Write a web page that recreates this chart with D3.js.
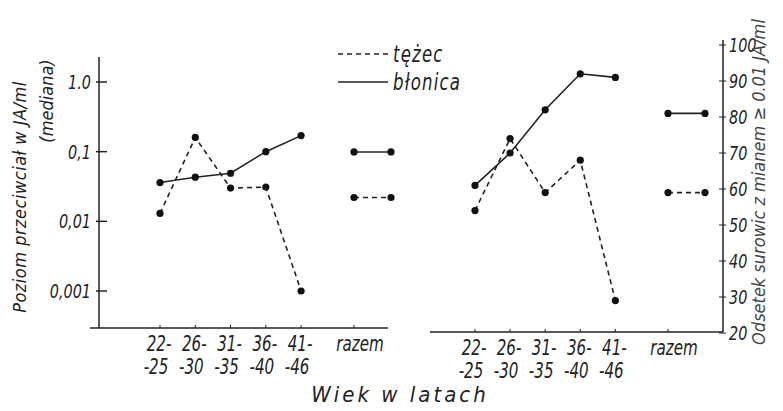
<!DOCTYPE html>
<html>
<head>
<meta charset="utf-8">
<script src="https://cdn.jsdelivr.net/npm/d3@7"></script>
<style>
  body { margin: 0; background: #fff; }
  svg text { font-family: "DejaVu Sans Condensed", "Liberation Sans", sans-serif; font-style: italic; fill: #222; }
  .ln { fill: none; stroke: #222; stroke-width: 1.6; }
  .axis { stroke: #222; stroke-width: 1.5; }
</style>
</head>
<body>
<svg width="783" height="411"></svg>
<script>
// age groups (line 1 / line 2 of tick label)
var groups1 = ["22-", "26-", "31-", "36-", "41-", "razem"];
var groups2 = ["-25", "-30", "-35", "-40", "-46", ""];
var groupPos = [0, 1, 2, 3, 4, 5.5];

var seriesNames = ["tężec", "błonica"];

// median antibody level, IU/ml (left panel, log scale)
var levelTezec   = [0.013, 0.16, 0.030, 0.031, 0.001, 0.022];
var levelBlonica = [0.036, 0.043, 0.049, 0.10, 0.17, 0.099];

// % of sera with titre >= 0.01 IU/ml (right panel)
var pctTezec   = [54, 74, 59, 68, 29, 59];
var pctBlonica = [61, 70, 82, 92, 91, 81];

var leftTicks = [1, 0.1, 0.01, 0.001];
var leftTickLabels = ["1.0", "0,1", "0,01", "0,001"];
var rightTicks = [20, 30, 40, 50, 60, 70, 80, 90, 100];

var svg = d3.select("svg");

var yLog = d3.scaleLog().domain([0.001, 1]).range([291, 82]);
var yPct = d3.scaleLinear().domain([20, 100]).range([333, 45]);
var xL = d3.scaleLinear().domain([0, 5.5]).range([160, 354]);
var xR = d3.scaleLinear().domain([0, 5.5]).range([475, 668]);
var razemW = 37;
var sx = 0.8; // narrow lettering

// text with narrow lettering, placed at (x,y)
function ntext(sel, x, y, size, anchor, s) {
  return sel.append("text")
      .attr("transform", "translate(" + x + "," + y + ") scale(" + sx + ",1)")
      .attr("text-anchor", anchor).style("font-size", size + "px").text(s);
}

// ---- axes ----
var leftX = 99, leftBase = 328, rightX = 723, rightBase = 332;

svg.append("line").attr("class", "axis").attr("x1", leftX).attr("x2", leftX).attr("y1", 57).attr("y2", leftBase);
svg.append("line").attr("class", "axis").attr("x1", 90).attr("x2", 388).attr("y1", leftBase).attr("y2", leftBase);
svg.append("line").attr("class", "axis").attr("x1", 430).attr("x2", rightX).attr("y1", rightBase).attr("y2", rightBase);
svg.append("line").attr("class", "axis").attr("x1", rightX).attr("x2", rightX).attr("y1", 40).attr("y2", rightBase);

var gl = svg.append("g");
leftTicks.forEach(function(d, i) {
  gl.append("line").attr("class", "axis").attr("x1", leftX - 3).attr("x2", leftX + 8)
      .attr("y1", yLog(d)).attr("y2", yLog(d));
  ntext(gl, leftX - 8, yLog(d) + 7, 20, "end", leftTickLabels[i]);
});

var gr = svg.append("g");
rightTicks.forEach(function(d) {
  gr.append("line").attr("class", "axis").attr("x1", rightX - 4).attr("x2", rightX + 3)
      .style("stroke-width", 1).attr("y1", yPct(d)).attr("y2", yPct(d));
  ntext(gr, rightX + 6, yPct(d) + 7, 20, "start", d);
});

function xTicks(x, base) {
  var g = svg.append("g");
  groupPos.forEach(function(d, i) {
    g.append("line").attr("class", "axis").style("stroke-width", 1)
        .attr("x1", x(d)).attr("x2", x(d)).attr("y1", base - 3).attr("y2", base);
    ntext(g, x(d) + (i == 5 ? 6 : -1), base + 23, 21, "middle", groups1[i]);
    ntext(g, x(d) - 4, base + 46, 21, "middle", groups2[i]);
  });
}
xTicks(xL, leftBase);
xTicks(xR, rightBase);

// ---- series ----
function drawSeries(vals, x, y, dashed) {
  var pts = vals.slice(0, 5).map(function(v, i) { return [x(groupPos[i]), y(v)]; });
  var r = [x(groupPos[5]), y(vals[5])];
  var tot = [r, [r[0] + razemW, r[1]]];
  [pts, tot].forEach(function(p) {
    svg.append("path").attr("class", "ln")
        .attr("d", d3.line()(p))
        .style("stroke-dasharray", dashed ? "5,4" : null);
    svg.selectAll(null).data(p).enter().append("circle")
        .attr("cx", function(d) { return d[0]; }).attr("cy", function(d) { return d[1]; })
        .attr("r", 3.6).style("fill", "#111");
  });
}
drawSeries(levelBlonica, xL, yLog, false);
drawSeries(levelTezec, xL, yLog, true);
drawSeries(pctBlonica, xR, yPct, false);
drawSeries(pctTezec, xR, yPct, true);

// ---- legend ----
var leg = svg.append("g");
seriesNames.forEach(function(n, i) {
  var yy = 54 + i * 28;
  leg.append("line").attr("class", "ln").attr("x1", 338).attr("x2", 388)
      .attr("y1", yy).attr("y2", yy)
      .style("stroke-dasharray", i == 0 ? "5,4" : null);
  ntext(leg, 393, yy + 8, 23, "start", n).style("letter-spacing", "1.5px");
});

// ---- axis titles ----
svg.append("text").attr("transform", "translate(26,197) rotate(-90)")
    .attr("text-anchor", "middle").style("font-size", "18px").style("letter-spacing", "0.5px")
    .text("Poziom przeciwciał w JA/ml");
svg.append("text").attr("transform", "translate(53,101) rotate(-90)")
    .attr("text-anchor", "middle").style("font-size", "18px")
    .text("(mediana)");
svg.append("text").attr("transform", "translate(765,182) rotate(-90)")
    .attr("text-anchor", "middle").style("font-size", "18px").style("fill", "#444")
    .text("Odsetek surowic z mianem ≥ 0.01 JA/ml");
svg.append("text").attr("x", 400).attr("y", 402)
    .attr("text-anchor", "middle").style("font-size", "22px").style("letter-spacing", "3px")
    .text("Wiek w latach");
</script>
</body>
</html>
